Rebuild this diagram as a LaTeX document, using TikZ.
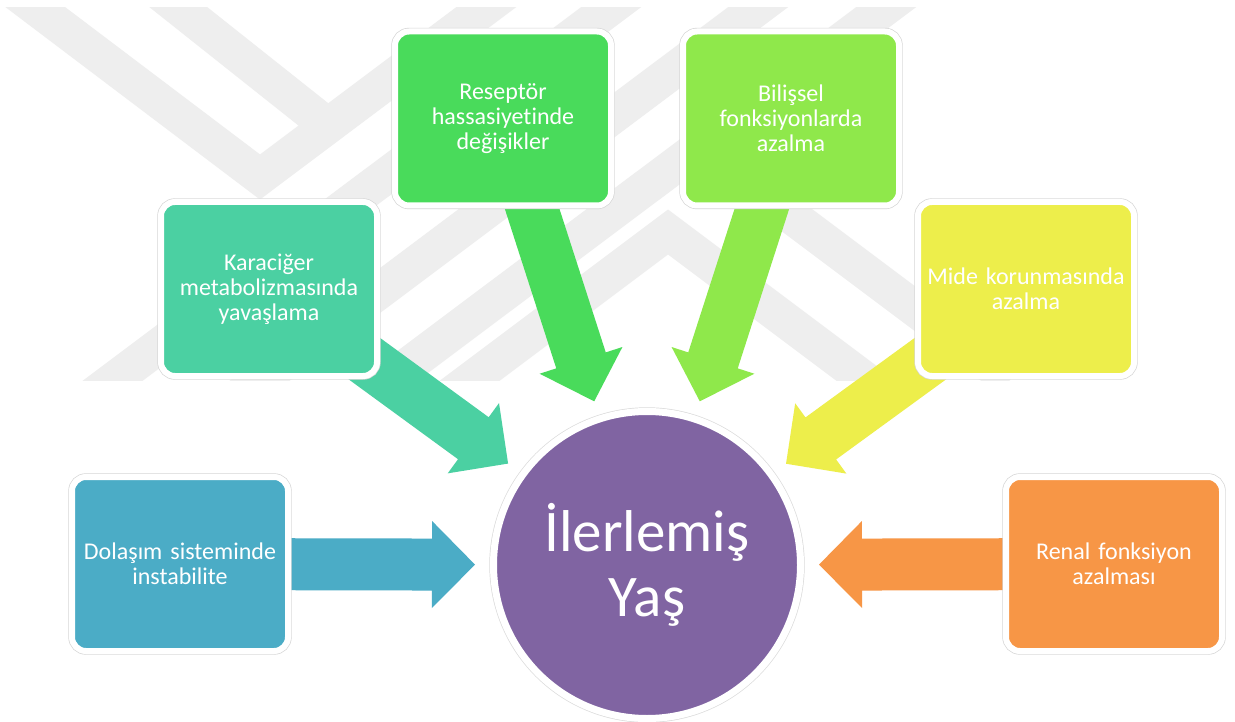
\documentclass[tikz,border=0pt]{standalone}
\usepackage{fontspec}
\setmainfont{Carlito}[Ligatures=NoCommon, WordSpace=0.55]
\usetikzlibrary{calc}
\definecolor{cDol}{HTML}{4BACC6}
\definecolor{cKar}{HTML}{4BD0A2}
\definecolor{cRes}{HTML}{49DB5B}
\definecolor{cBil}{HTML}{8FE84B}
\definecolor{cMid}{HTML}{EDEE4B}
\definecolor{cRen}{HTML}{F79646}
\definecolor{cYas}{HTML}{8064A2}
\definecolor{wm}{HTML}{EEEEEE}
\pgfdeclarelayer{wmk}
\pgfdeclarelayer{bg}
\pgfsetlayers{wmk,bg,main}
\tikzset{
  box/.style={rounded corners=14pt, minimum width=216pt, minimum height=174pt,
    inner sep=0pt, draw=white, line width=6pt,
    preaction={draw=black!16, line width=7.4pt},
    text=white, align=center, text width=205pt,
    font=\fontsize{24}{25}\selectfont},
  hub/.style={circle, minimum size=307pt, inner sep=0pt, fill=cYas,
    draw=white, line width=7pt, preaction={draw=black!14, line width=8.4pt},
    text=white, align=center, font=\fontsize{59}{65}\selectfont},
  band/.style={draw=wm, line width=36pt, line join=miter},
}
\newcommand\fatarrow[2]{%
  \coordinate (hb) at ($(hub)!215pt!(#1)$);
  \coordinate (tp) at ($(hub)!172pt!(#1)$);
  \fill[#2] ($(#1)!26pt!90:(hub)$) -- ($(hb)!26pt!90:(hub)$)
    -- ($(hb)!43.5pt!90:(hub)$) -- (tp) -- ($(hb)!43.5pt!-90:(hub)$)
    -- ($(hb)!26pt!-90:(hub)$) -- ($(#1)!26pt!-90:(hub)$) -- cycle;}
\begin{document}
\begin{tikzpicture}[x=1pt,y=-1pt]
\useasboundingbox (0,0) rectangle (1235,722);

\node[box, fill=cDol] (dol) at (180,564) {Dolaşım sisteminde\\instabilite};
\node[box, fill=cKar] (kar) at (269,289) {Karaciğer\\metabolizmasında\\yavaşlama};
\node[box, fill=cRes] (res) at (503,118.5) {Reseptör\\hassasiyetinde\\değişikler};
\node[box, fill=cBil] (bil) at (791,118.5) {Bilişsel\\fonksiyonlarda\\azalma};
\node[box, fill=cMid] (mid) at (1026,289) {Mide korunmasında\\azalma};
\node[box, fill=cRen] (ren) at (1114,564) {Renal fonksiyon\\azalması};
\node[hub] (hub) at (647,565) {İlerlemiş\\Yaş};

\begin{pgfonlayer}{bg}
  \fatarrow{dol}{cDol}
  \fatarrow{kar}{cKar}
  \fatarrow{res}{cRes}
  \fatarrow{bil}{cBil}
  \fatarrow{mid}{cMid}
  \fatarrow{ren}{cRen}
\end{pgfonlayer}

\begin{pgfonlayer}{wmk}
  \fill[white] (0,0) rectangle (1235,722);
  \begin{scope}
    \clip (0,8) rectangle (1235,380);
    \draw[band] (-27,-40) -- (260,177) -- (549,-40);
    \draw[band] (119,-40) -- (328,126);
    \draw[band] (674,-40) -- (87,400);
    \draw[band] (821,-40) -- (234,400);
    \draw[band] (949,-40) -- (362,400);
    \draw[band] (444,400) -- (668,232) -- (892,400);
    \draw[band] (690,140) -- (1010,380);
  \end{scope}
\end{pgfonlayer}
\end{tikzpicture}
\end{document}
